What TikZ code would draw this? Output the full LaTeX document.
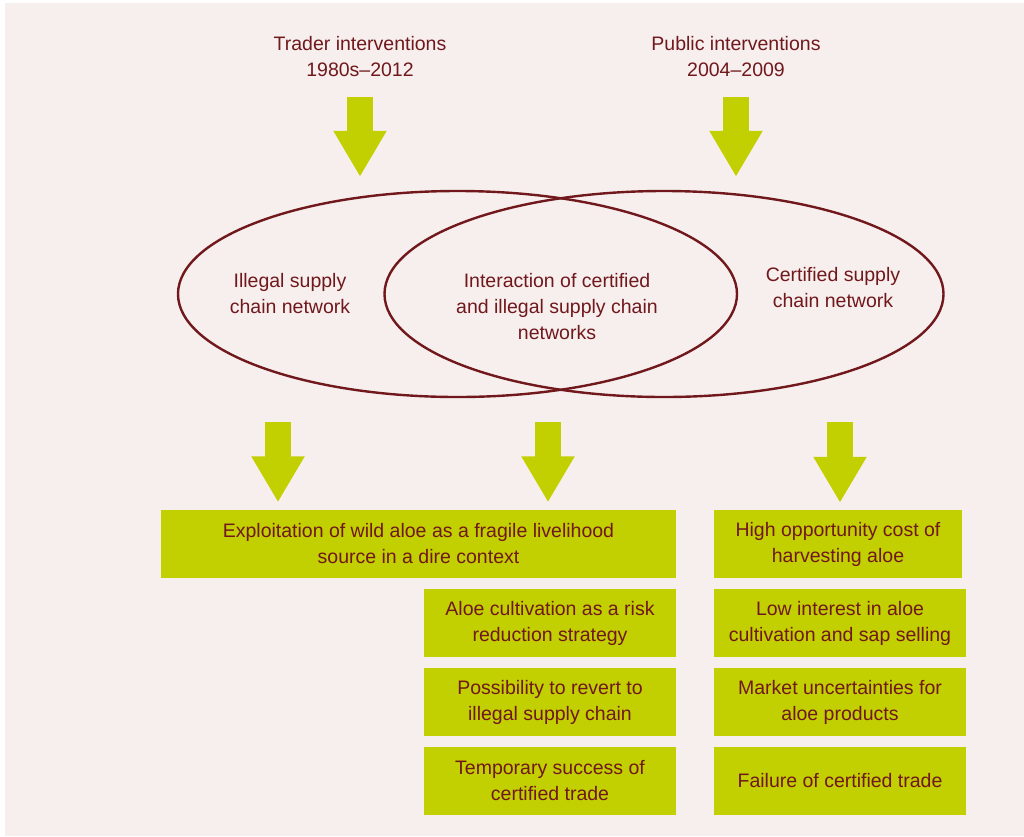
\documentclass[tikz,border=0pt]{standalone}
\usepackage{fontspec}
\setmainfont{Liberation Sans}
\usetikzlibrary{shapes.geometric,arrows.meta}
\definecolor{bgpink}{RGB}{247,239,238}
\definecolor{aloegreen}{RGB}{194,207,0}
\definecolor{wine}{RGB}{112,24,28}

\begin{document}
\begin{tikzpicture}[
    x=1pt, y=-1pt,
    ring/.style={ellipse, draw=wine, line width=2.4pt,
        minimum width=559pt, minimum height=206pt, inner sep=0pt},
    txt/.style={align=center, text=wine, inner sep=0pt,
        font=\fontsize{19.5}{26}\selectfont},
    effect/.style={txt, fill=aloegreen, minimum height=68pt},
    bigarrow/.style={draw=aloegreen, line width=26pt,
        -{Triangle[width=50pt, length=46pt]}}
]
    \useasboundingbox (0,0) rectangle (1024,836);
    \fill[bgpink] (5,3) rectangle (1024,836);

    \node[txt] (trader) at (360,57) {Trader interventions\\1980s--2012};
    \node[txt] (public) at (736,57) {Public interventions\\2004--2009};

    \node[ring] (illegal) at (457.5,294) {};
    \node[ring] (certified) at (664,294) {};
    \node[txt] (illegaltxt) at (290,294) {Illegal supply\\chain network};
    \node[txt] (mixtxt) at (557,307) {Interaction of certified\\and illegal supply chain\\networks};
    \node[txt] (certtxt) at (833,288) {Certified supply\\chain network};

    \node[effect, minimum width=515pt] (exploit) at (418.5,543.5) {Exploitation of wild aloe as a fragile livelihood\\source in a dire context};
    \node[effect, minimum width=252pt] (cultivate) at (550,623) {Aloe cultivation as a risk\\reduction strategy};
    \node[effect, minimum width=252pt] (revert) at (550,702) {Possibility to revert to\\illegal supply chain};
    \node[effect, minimum width=252pt] (success) at (550,781) {Temporary success of\\certified trade};
    \node[effect, minimum width=248pt] (highcost) at (838,544) {High opportunity cost of\\harvesting aloe};
    \node[effect, minimum width=252pt] (lowint) at (840,623) {Low interest in aloe\\cultivation and sap selling};
    \node[effect, minimum width=252pt] (market) at (840,702) {Market uncertainties for\\aloe products};
    \node[effect, minimum width=252pt] (failure) at (840,781) {Failure of certified trade};

    % interventions into the networks
    \draw[bigarrow, shorten <=20pt, shorten >=13pt] (trader.south) -- (trader.south |- illegal.north);
    \draw[bigarrow, shorten <=20pt, shorten >=13pt] (public.south) -- (public.south |- certified.north);

    % outcomes
    \coordinate (drop1) at (278,422);
    \coordinate (drop2) at (548,422);
    \coordinate (drop3) at (840,422);
    \draw[bigarrow, shorten >=7pt] (drop1) -- (drop1 |- exploit.north);
    \draw[bigarrow, shorten >=7pt] (drop2) -- (drop2 |- exploit.north);
    \draw[bigarrow, shorten >=7pt] (drop3) -- (drop3 |- highcost.north);
\end{tikzpicture}
\end{document}
